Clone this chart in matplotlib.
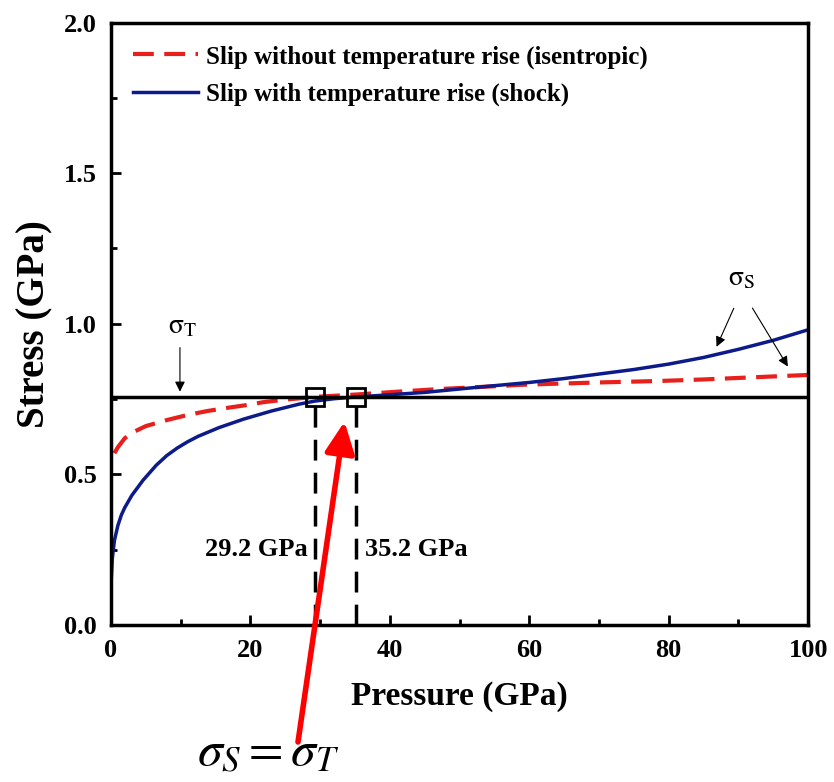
import matplotlib
matplotlib.use("Agg")
import matplotlib.pyplot as plt

plt.rcParams['font.family'] = ['Liberation Serif', 'DejaVu Serif']
plt.rcParams['mathtext.fontset'] = 'stix'

# isentropic (red dashed)
p_isen = [0.5, 1, 2, 3.2, 5, 8, 11, 13.8, 16.5, 19.5, 22, 25, 29.2, 35.2, 41.5, 47, 53, 58.7, 64, 70, 78.8, 85, 92, 100]
s_isen = [0.57, 0.59, 0.62, 0.64, 0.66, 0.68, 0.697, 0.71, 0.72, 0.73, 0.74, 0.748, 0.757, 0.765, 0.775, 0.783, 0.79, 0.797, 0.801, 0.805, 0.81, 0.815, 0.822, 0.83]

# shock (blue solid)
p_shock = [0, 0.2, 0.5, 1, 1.5, 2, 3, 4.6, 6.5, 8, 9.5, 11, 12.5, 15.5, 19, 23, 27, 29.2, 32, 35.2, 38.6, 45, 53, 60, 65, 70, 75, 80, 85, 90, 95, 100]
s_shock = [0.13, 0.22, 0.28, 0.33, 0.365, 0.39, 0.43, 0.48, 0.53, 0.562, 0.587, 0.608, 0.626, 0.655, 0.683, 0.71, 0.733, 0.743, 0.751, 0.757, 0.762, 0.772, 0.79, 0.805, 0.818, 0.833, 0.848, 0.866, 0.888, 0.915, 0.945, 0.98]

sigma_t = 0.757
cross_p = [29.2, 35.2]
cross_labels = ['29.2 GPa', '35.2 GPa']

fig = plt.figure(figsize=(8.34, 7.82), dpi=100)
ax = fig.add_axes([0.133, 0.201, 0.836, 0.770])

ax.plot(p_isen, s_isen, color='#e8201c', lw=3, ls=(0, (5, 2.5)),
        label='Slip without temperature rise (isentropic)')
ax.plot(p_shock, s_shock, color='#0c1a8a', lw=2.5,
        label='Slip with temperature rise (shock)')
ax.axhline(sigma_t, color='black', lw=2.5)

for p in cross_p:
    ax.plot([p, p], [0, sigma_t], color='black', lw=2.5, ls=(0, (6, 3.5)))
ax.plot(cross_p, [sigma_t] * 2, ls='none', marker='s', ms=13, mfc='none',
        mec='black', mew=2)

ax.text(28.2, 0.25, cross_labels[0], ha='right', va='center', fontsize=19, fontweight='bold')
ax.text(36.4, 0.25, cross_labels[1], ha='left', va='center', fontsize=19, fontweight='bold')

# sigma_T marker
ax.text(10.3, 0.99, r'$\mathrm{\sigma}_{\mathrm{T}}$', ha='center', va='center', fontsize=20)
ax.annotate('', xy=(9.9, 0.765), xytext=(9.9, 0.93),
            arrowprops=dict(arrowstyle='-|>', color='black', lw=0.8, mutation_scale=15))

# sigma_S markers
ax.text(90.5, 1.15, r'$\mathrm{\sigma}_{\mathrm{S}}$', ha='center', va='center', fontsize=20)
ax.annotate('', xy=(86.7, 0.915), xytext=(89.5, 1.06),
            arrowprops=dict(arrowstyle='-|>', color='black', lw=0.8, mutation_scale=15))
ax.annotate('', xy=(97.3, 0.85), xytext=(91.8, 1.06),
            arrowprops=dict(arrowstyle='-|>', color='black', lw=0.8, mutation_scale=15))

# red arrow to the intersection
ax.annotate('', xy=(33.5, 0.675), xytext=(298, 782 - 742), textcoords='figure pixels',
            arrowprops=dict(arrowstyle='-|>,head_width=0.45,head_length=0.95', color='#ff0000',
                            lw=4, mutation_scale=20, shrinkA=0, shrinkB=0),
            annotation_clip=False)
fig.text(268 / 834, 1 - 753 / 782, r'$\sigma_S = \sigma_T$', ha='center', va='center',
         fontsize=36)

ax.set_xlim(0, 100)
ax.set_ylim(0, 2.0)
ax.set_xticks([0, 20, 40, 60, 80, 100])
ax.set_xticks([10, 30, 50, 70, 90], minor=True)
ax.set_yticks([0, 0.5, 1.0, 1.5, 2.0])
ax.set_yticks([0.25, 0.75, 1.25, 1.75], minor=True)
ax.set_yticklabels(['0.0', '0.5', '1.0', '1.5', '2.0'])
ax.tick_params(which='major', direction='in', length=7, width=2, labelsize=19, pad=10)
ax.tick_params(which='minor', direction='in', length=4, width=2)
for lab in ax.get_xticklabels() + ax.get_yticklabels():
    lab.set_fontweight('bold')
for sp in ax.spines.values():
    sp.set_linewidth(2.5)

ax.set_xlabel('Pressure (GPa)', fontsize=24, fontweight='bold', labelpad=14)
ax.set_ylabel('Stress (GPa)', fontsize=28, fontweight='bold', labelpad=8)

leg = ax.legend(loc='upper left', frameon=False, prop={'size': 18, 'weight': 'bold'},
                handlelength=2.6, handletextpad=0.3, borderaxespad=0.5, labelspacing=0.55)

fig.savefig('out.png', dpi=100)
